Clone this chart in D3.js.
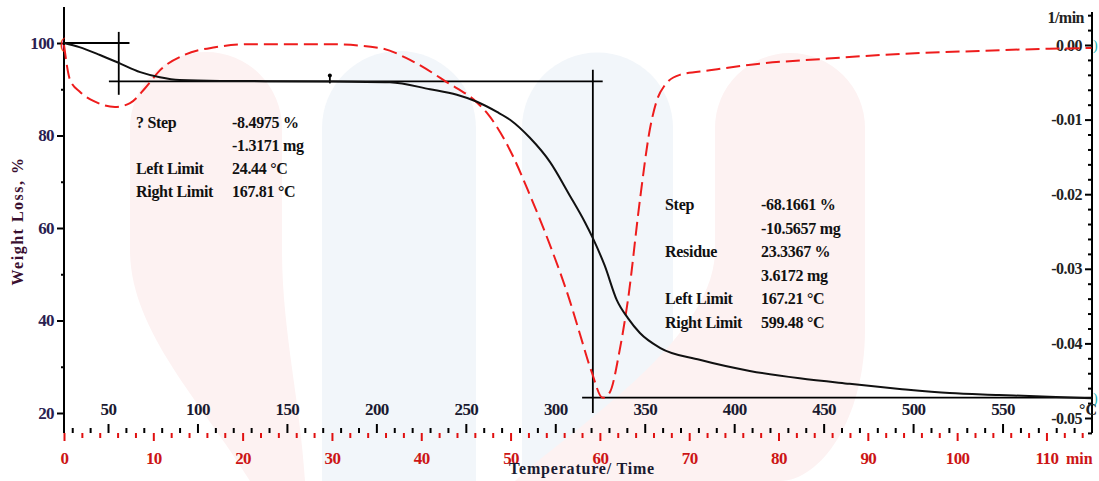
<!DOCTYPE html>
<html><head><meta charset="utf-8">
<script src="https://cdn.jsdelivr.net/npm/d3@7"></script>
<style>
html,body{margin:0;padding:0;background:#fff;}
svg{display:block;}
text{font-family:"Liberation Serif","Times New Roman",serif;}
</style></head>
<body>
<svg id="chart" width="1099" height="481"></svg>
<script>
// ---- data ----
const tgTemp   = [25.4,34,45.5,56,68,79,90,112.6,174,207.6,230,245,256.2,267.4,274.7,285.8,297,308,316.5,321,327.6,334.4,340.6,347.3,358.5,380.7,408.7,436.6,464.5,492.5,520.4,548,576,599.7];
const tgWeight = [100,99.1,97.4,95.7,93.7,92.6,92,91.8,91.7,91.5,90.0,88.8,87.3,85.1,83.4,79.5,74.3,67.1,61.3,57.8,51.9,44.4,40.5,37.3,34.1,31.5,29.1,27.5,26.3,25.2,24.3,23.9,23.5,23.2];
const dtgTemp  = [25.4,28.8,34.4,42.7,53.9,62.3,70.7,79,93,109.8,129.3,174,202,218.8,239.5,256.2,261.8,274.7,285.8,297,308,313.6,320.3,326.5,330.4,336,340.6,347.3,352.8,356.8,361.2,369.6,386.3,414.2,447.8,492.5,537,576,599.7];
const dtgRate  = [0,-0.0047,-0.0063,-0.0076,-0.0083,-0.0078,-0.0058,-0.0034,-0.0013,-0.0003,0.0001,0.0001,-0.0004,-0.002,-0.005,-0.0077,-0.0091,-0.0141,-0.0201,-0.0268,-0.0342,-0.0386,-0.0438,-0.0473,-0.0466,-0.0409,-0.0342,-0.0208,-0.0114,-0.0074,-0.0054,-0.004,-0.0034,-0.0025,-0.0019,-0.0012,-0.0008,-0.0005,-0.0004];
const weightTicks = [20,40,60,80,100];
const rateTicks   = [0,-0.01,-0.02,-0.03,-0.04,-0.05];
const tempTicks   = [50,100,150,200,250,300,350,400,450,500,550];
const timeTicks   = [0,10,20,30,40,50,60,70,80,90,100,110];
const step1Text = [["? Step","-8.4975 %"],["","-1.3171 mg"],["Left Limit","24.44 °C"],["Right Limit","167.81 °C"]];
const step2Text = [["Step","-68.1661 %"],["","-10.5657 mg"],["Residue","23.3367 %"],["","3.6172 mg"],["Left Limit","167.21 °C"],["Right Limit","599.48 °C"]];
// step evaluation lines (temperature / weight units)
const step1 = {tStart:25.4, tEnd:62, wTop:100, tMark:56, wMarkTop:102.4, wMarkBot:88.8, wPlateau:91.7, tPlatStart:50.5, tPlatEnd:326.5};
const step2 = {tMark:321, wMarkTop:94.2, wMarkBot:20, wResidue:23.34, tResStart:315, tResEnd:600};
const midMark = {t:174, w:91.7};

// ---- layout ----
const svg = d3.select("#chart");
const L = 64, R = 1092, B = 433;
const xT = d3.scaleLinear().domain([25.4, 600]).range([L, R]);
const xTime = d3.scaleLinear().domain([0, 115.1]).range([L, R]);
const yW = d3.scaleLinear().domain([100, 20]).range([43, 413]);
const yD = d3.scaleLinear().domain([0, -0.05]).range([45, 418]);

// ---- watermark ----
const wm = svg.append("g");
const blue = "#f2f6fa", pink = "#fdf2f2";
wm.append("path").attr("fill",blue)
  .attr("d","M322,481 L322,128 A77,77 0 0 1 476,128 L476,481 Z");
wm.append("path").attr("fill",blue)
  .attr("d","M522,481 L522,128 A75,75 0 0 1 673,128 L673,481 Z");
wm.append("path").attr("fill",pink)
  .attr("d","M250,481 C200,400 130,330 130,250 L130,128 A76,76 0 0 1 282,128 L282,250 C282,330 300,400 305,481 Z");
wm.append("path").attr("fill",pink)
  .attr("d","M515,481 C570,430 715,340 715,250 L715,128 A75,75 0 0 1 865,128 L865,330 C865,420 820,481 780,481 Z");

// ---- axes ----
const navy = "#2a2050";
function styleAxis(g, color, fs, weight){
  g.select(".domain").remove();
  g.selectAll(".tick line").attr("stroke", "#000").attr("stroke-width", 2);
  g.selectAll("text").attr("fill", color).attr("font-size", fs).attr("font-weight", weight)
    .attr("font-family","Liberation Serif, serif");
}
// left
const gl = svg.append("g").attr("transform",`translate(${L},0)`);
gl.call(d3.axisLeft(yW).tickValues(d3.range(20,101,10).filter(v=>v%20)).tickSize(3).tickFormat(""));
styleAxis(gl,navy,17,"normal");
const gl2 = svg.append("g").attr("transform",`translate(${L},0)`);
gl2.call(d3.axisLeft(yW).tickValues(weightTicks).tickSize(7).tickPadding(3));
styleAxis(gl2,navy,17,"bold");
gl2.selectAll("text").attr("letter-spacing","-0.6");
svg.append("line").attr("x1",L).attr("x2",L).attr("y1",7).attr("y2",B).attr("stroke","#000").attr("stroke-width",2);

// right
const gr = svg.append("g").attr("transform",`translate(${R},0)`);
gr.call(d3.axisLeft(yD).tickValues(d3.range(2,-27,-1).map(v=>v*0.002).filter(v=>Math.abs(Math.round(v*1000))%10!==0)).tickSize(4).tickFormat(""));
styleAxis(gr,"#222",16,"normal");
const gr2 = svg.append("g").attr("transform",`translate(${R},0)`);
gr2.call(d3.axisLeft(yD).tickValues(rateTicks).tickSize(7).tickPadding(3).tickFormat(d3.format(".2f")));
styleAxis(gr2,"#222",16,"bold");
gr2.selectAll("text").text(d=>d3.format(".2f")(d).replace("−","-")).attr("letter-spacing","-0.5");
svg.append("line").attr("x1",R).attr("x2",R).attr("y1",12).attr("y2",B).attr("stroke","#000").attr("stroke-width",2);
svg.append("text").attr("x",R-8).attr("y",23).attr("text-anchor","end").attr("font-size",16).attr("font-weight","bold").attr("letter-spacing","-0.5").attr("fill","#222").text("1/min");

// bottom temperature (ticks above)
const gt = svg.append("g").attr("transform",`translate(0,${B})`);
gt.call(d3.axisTop(xT).tickValues(d3.range(30,600,10).filter(v=>v%50)).tickSize(5).tickFormat(""));
styleAxis(gt,"#111",16,"normal");
const gt2 = svg.append("g").attr("transform",`translate(0,${B})`);
gt2.call(d3.axisTop(xT).tickValues(tempTicks).tickSize(9).tickPadding(9));
styleAxis(gt2,"#1a1a30",17,"bold");
gt2.selectAll("text").attr("letter-spacing","-0.6");
svg.append("text").attr("x",1079).attr("y",415).attr("font-size",16).attr("font-weight","bold").attr("fill","#222").text("°C");

// bottom time (ticks below, red)
const gm = svg.append("g").attr("transform",`translate(0,${B})`);
gm.call(d3.axisBottom(xTime).tickValues(d3.range(2,116,2).filter(v=>v%10)).tickSize(5).tickFormat(""));
styleAxis(gm,"#d01010",17,"bold");
gm.selectAll(".tick line").attr("stroke","#e01010");
const gm2 = svg.append("g").attr("transform",`translate(0,${B})`);
gm2.call(d3.axisBottom(xTime).tickValues(timeTicks).tickSize(8).tickPadding(11));
styleAxis(gm2,"#cc1515",17,"bold");
gm2.selectAll(".tick line").attr("stroke","#e01010");
gm2.selectAll("text").attr("letter-spacing","-0.6");
svg.append("text").attr("x",1066).attr("y",464).attr("font-size",16).attr("font-weight","bold").attr("fill","#cc1515").text("min");

// titles
svg.append("text").attr("transform","translate(23,221) rotate(-90)").attr("text-anchor","middle")
  .attr("font-size",16).attr("font-weight","bold").attr("letter-spacing","1.5").attr("fill","#3a1030").text("Weight Loss, %");
svg.append("text").attr("x",582).attr("y",474).attr("text-anchor","middle")
  .attr("font-size",16).attr("font-weight","bold").attr("letter-spacing","0.8").attr("fill","#1a1a30").text("Temperature/ Time");

// ---- step lines ----
const ln = svg.append("g").attr("stroke","#000").attr("stroke-width",1.8);
ln.append("line").attr("x1",xT(step1.tStart)).attr("x2",xT(step1.tEnd)).attr("y1",yW(step1.wTop)).attr("y2",yW(step1.wTop));
ln.append("line").attr("x1",xT(step1.tMark)).attr("x2",xT(step1.tMark)).attr("y1",yW(step1.wMarkTop)).attr("y2",yW(step1.wMarkBot));
ln.append("line").attr("x1",xT(step1.tPlatStart)).attr("x2",xT(step1.tPlatEnd)).attr("y1",yW(step1.wPlateau)).attr("y2",yW(step1.wPlateau));
ln.append("line").attr("x1",xT(step2.tMark)).attr("x2",xT(step2.tMark)).attr("y1",yW(step2.wMarkTop)).attr("y2",yW(step2.wMarkBot));
ln.append("line").attr("x1",xT(step2.tResStart)).attr("x2",xT(step2.tResEnd)).attr("y1",yW(step2.wResidue)).attr("y2",yW(step2.wResidue));
ln.append("line").attr("x1",xT(midMark.t)).attr("x2",xT(midMark.t)).attr("y1",yW(midMark.w)-7).attr("y2",yW(midMark.w)+2);
svg.append("circle").attr("cx",xT(midMark.t)).attr("cy",yW(midMark.w)-6).attr("r",2).attr("fill","#000");

// ---- curves ----
const tgData = tgTemp.map((t,i)=>[t,tgWeight[i]]);
const dtgData = dtgTemp.map((t,i)=>[t,dtgRate[i]]);
svg.append("path").datum(dtgData).attr("fill","none").attr("stroke","#ee1c1c").attr("stroke-width",2)
  .attr("stroke-dasharray","14,6")
  .attr("d", d3.line().x(d=>xT(d[0])).y(d=>yD(d[1])).curve(d3.curveMonotoneX));
svg.append("path").datum(tgData).attr("fill","none").attr("stroke","#111").attr("stroke-width",2)
  .attr("d", d3.line().x(d=>xT(d[0])).y(d=>yW(d[1])).curve(d3.curveMonotoneX));

// start/end markers
svg.append("text").attr("x",L-4).attr("y",yW(100)+6).attr("font-size",16).attr("fill","#ee1c1c").text("(");
svg.append("text").attr("x",R+1).attr("y",yD(0)+5).attr("font-size",14).attr("fill","#20b0b0").text(")");
svg.append("text").attr("x",R+1).attr("y",yW(step2.wResidue)+5).attr("font-size",14).attr("fill","#20b0b0").text(")");

// ---- annotation text ----
function block(rows, x1, x2, y0, dy){
  const g = svg.append("g").attr("font-size",16).attr("font-weight","bold").attr("fill","#111").attr("letter-spacing","-0.3");
  rows.forEach((r,i)=>{
    g.append("text").attr("x",x1).attr("y",y0+i*dy).text(r[0]);
    g.append("text").attr("x",x2).attr("y",y0+i*dy).text(r[1]);
  });
}
block(step1Text, 136, 232, 128, 23);
block(step2Text, 665, 761, 210, 23.6);
</script>
</body></html>
